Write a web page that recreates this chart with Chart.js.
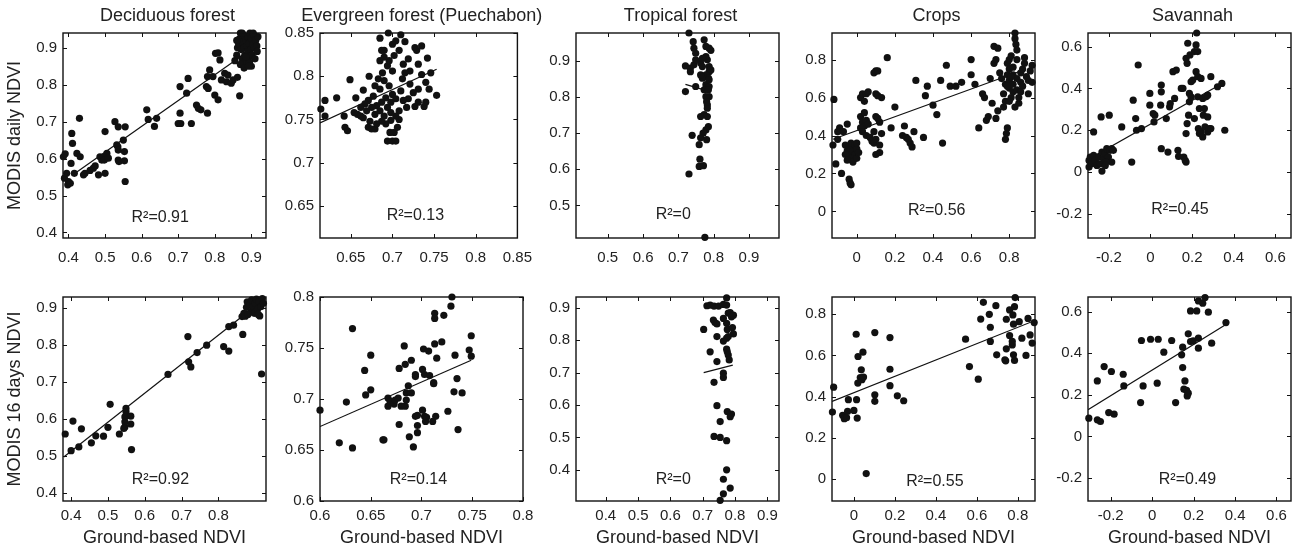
<!DOCTYPE html>
<html>
<head>
<meta charset="utf-8">
<script src="https://cdn.jsdelivr.net/npm/chart.js@4.4.1/dist/chart.umd.min.js"></script>
<style>
  body { margin: 0; background: #fff; }
  #fig { position: relative; width: 1301px; height: 553px; overflow: hidden; }
  #fig canvas { position: absolute; }
</style>
</head>
<body>
<div id="fig"></div>
<script>
// ---- data: [ground NDVI, MODIS NDVI] ----

// top row: MODIS daily
const decidDailyPts = [
  [0.386,0.605],[0.391,0.613],[0.389,0.547],[0.395,0.56],[0.4,0.538],[0.398,0.529],[0.405,0.533],[0.407,0.587],
  [0.409,0.668],[0.411,0.641],[0.416,0.56],[0.423,0.614],[0.43,0.709],[0.432,0.605],[0.441,0.556],[0.445,0.56],
  [0.459,0.568],[0.468,0.574],[0.473,0.58],[0.482,0.556],[0.486,0.605],[0.491,0.596],[0.495,0.604],[0.498,0.596],
  [0.5,0.673],[0.5,0.56],[0.505,0.614],[0.509,0.601],[0.527,0.7],[0.532,0.637],[0.535,0.632],[0.536,0.686],
  [0.536,0.623],[0.536,0.596],[0.538,0.592],[0.55,0.65],[0.553,0.619],[0.555,0.686],[0.553,0.594],[0.555,0.538],
  [0.614,0.732],[0.618,0.706],[0.635,0.687],[0.641,0.709],[0.7,0.695],[0.705,0.723],[0.705,0.795],[0.707,0.695],
  [0.723,0.777],[0.727,0.817],[0.736,0.695],[0.75,0.745],[0.755,0.736],[0.762,0.732],[0.777,0.795],[0.78,0.822],
  [0.78,0.723],[0.782,0.79],[0.786,0.84],[0.795,0.822],[0.8,0.772],[0.802,0.885],[0.809,0.886],[0.809,0.759],
  [0.814,0.867],[0.818,0.813],[0.827,0.831],[0.832,0.808],[0.836,0.826],[0.845,0.804],[0.85,0.813],[0.862,0.82],
  [0.868,0.77],
  [0.855,0.865],[0.86,0.88],[0.862,0.9],[0.865,0.91],[0.868,0.925],[0.87,0.94],[0.872,0.895],[0.875,0.87],
  [0.876,0.915],[0.878,0.935],[0.88,0.9],[0.882,0.88],[0.884,0.86],[0.885,0.92],[0.887,0.905],[0.89,0.93],
  [0.89,0.89],[0.892,0.87],[0.894,0.912],[0.896,0.94],[0.898,0.895],[0.9,0.925],[0.9,0.85],[0.902,0.88],
  [0.905,0.91],[0.906,0.935],[0.908,0.9],[0.91,0.87],[0.912,0.92],[0.915,0.905],[0.916,0.89],[0.918,0.93],
  [0.87,0.855],[0.88,0.845],[0.895,0.86],[0.86,0.92],[0.875,0.94],[0.905,0.94],[0.885,0.875],[0.892,0.85]
];
const evergreenDailyPts = [
  [0.614,0.762],[0.619,0.754],[0.619,0.772],[0.633,0.775],[0.642,0.754],[0.643,0.741],[0.646,0.737],[0.649,0.796],
  [0.656,0.775],[0.658,0.756],[0.662,0.754],[0.665,0.784],[0.672,0.8],[0.677,0.777],[0.671,0.741],[0.679,0.739],
  [0.685,0.818],[0.685,0.844],[0.69,0.83],[0.695,0.85],[0.7,0.837],[0.704,0.841],[0.71,0.848],[0.715,0.84],
  [0.694,0.725],[0.7,0.725],[0.704,0.725],[0.697,0.735],[0.708,0.75],[0.71,0.783],[0.719,0.82],[0.721,0.806],
  [0.727,0.833],[0.729,0.83],[0.735,0.835],[0.731,0.814],[0.735,0.802],[0.74,0.793],[0.742,0.821],[0.744,0.785],
  [0.746,0.804],[0.753,0.778],[0.738,0.765],[0.74,0.77],[0.727,0.765],[0.731,0.785],[0.719,0.774],[0.713,0.772],
  [0.721,0.791],[0.717,0.764],[0.708,0.76],[0.712,0.797],[0.7,0.806],[0.694,0.812],[0.688,0.804],[0.683,0.797],
  [0.679,0.789],[0.685,0.785],[0.69,0.795],[0.696,0.789],[0.7,0.779],[0.692,0.775],[0.687,0.77],[0.681,0.766],
  [0.675,0.764],[0.669,0.76],[0.665,0.752],[0.673,0.748],[0.679,0.756],[0.685,0.76],[0.69,0.754],[0.694,0.764],
  [0.698,0.77],[0.704,0.774],[0.704,0.754],[0.698,0.749],[0.692,0.745],[0.687,0.748],[0.681,0.745],[0.675,0.739],
  [0.698,0.758],[0.706,0.741],[0.702,0.735],[0.708,0.83],[0.702,0.824],[0.696,0.818],[0.69,0.822],[0.687,0.83],
  [0.713,0.814],[0.715,0.804],[0.725,0.781],[0.731,0.77],[0.671,0.772],[0.667,0.768],[0.662,0.764],[0.654,0.758]
];
const tropicalDailyPts = [
  [0.73,0.977],[0.742,0.953],[0.744,0.935],[0.749,0.921],[0.773,0.958],[0.778,0.94],[0.787,0.935],[0.792,0.929],
  [0.72,0.886],[0.734,0.88],[0.734,0.87],[0.744,0.889],[0.763,0.894],[0.768,0.884],[0.782,0.903],[0.787,0.884],
  [0.787,0.87],[0.792,0.875],[0.778,0.861],[0.785,0.852],[0.768,0.852],[0.763,0.861],[0.749,0.829],[0.72,0.815],
  [0.778,0.834],[0.787,0.829],[0.773,0.82],[0.787,0.801],[0.778,0.801],[0.782,0.778],[0.782,0.769],[0.773,0.751],
  [0.763,0.746],[0.782,0.746],[0.785,0.718],[0.778,0.709],[0.77,0.7],[0.739,0.694],[0.763,0.687],[0.78,0.682],
  [0.759,0.668],[0.761,0.628],[0.759,0.608],[0.771,0.61],[0.73,0.587],[0.775,0.412],[0.778,0.912],[0.785,0.82],
  [0.78,0.787],[0.787,0.848],[0.768,0.907],[0.749,0.903]
];
const cropsDailyPts = [
  [-0.125,0.35],[-0.12,0.59],[-0.11,0.25],[-0.1,0.42],[-0.09,0.44],[-0.08,0.2],[-0.1,0.38],[-0.07,0.42],
  [-0.05,0.46],[-0.04,0.17],[-0.035,0.15],[-0.03,0.14],[-0.05,0.32],[-0.04,0.3],[-0.03,0.28],[-0.02,0.26],
  [-0.04,0.34],[-0.02,0.32],[-0.01,0.3],[0,0.28],[-0.03,0.36],[-0.01,0.35],[0,0.33],[0.01,0.31],
  [-0.06,0.3],[-0.05,0.27],[0,0.36],[-0.06,0.35],
  [0.02,0.6],[0.03,0.62],[0.04,0.58],[0.05,0.62],[0.06,0.63],[0.02,0.5],[0.03,0.47],[0.04,0.45],
  [0.05,0.48],[0.02,0.44],[0.03,0.42],[0.04,0.52],[0.06,0.46],[0.05,0.4],[0.07,0.39],[0.08,0.37],
  [0.09,0.36],[0.1,0.3],[0.12,0.31],[0.09,0.42],[0.1,0.5],[0.11,0.49],[0.12,0.47],[0.13,0.41],
  [0.1,0.62],[0.11,0.61],[0.13,0.6],[0.09,0.73],[0.1,0.74],[0.11,0.74],[0.16,0.81],[0.2,0.55],
  [0.18,0.44],[0.1,0.38],[0.12,0.35],
  [0.25,0.45],[0.24,0.4],[0.26,0.39],[0.27,0.38],[0.28,0.36],[0.29,0.34],[0.3,0.42],[0.31,0.69],
  [0.36,0.61],[0.37,0.66],[0.35,0.39],[0.4,0.56],[0.42,0.51],[0.44,0.69],[0.45,0.36],[0.47,0.77],
  [0.49,0.66],[0.52,0.66],[0.55,0.68],
  [0.6,0.8],[0.6,0.72],[0.62,0.67],[0.64,0.44],[0.66,0.62],[0.67,0.6],[0.68,0.48],[0.69,0.5],
  [0.7,0.7],[0.71,0.57],[0.72,0.78],[0.72,0.87],[0.74,0.86],[0.73,0.8],[0.75,0.73],[0.76,0.7],
  [0.74,0.53],[0.73,0.49],
  [0.77,0.62],[0.77,0.55],[0.78,0.58],[0.78,0.38],[0.785,0.41],[0.79,0.44],[0.78,0.67],[0.79,0.72],
  [0.79,0.78],[0.8,0.8],[0.8,0.75],[0.8,0.69],[0.8,0.65],[0.81,0.6],[0.81,0.82],[0.82,0.76],
  [0.82,0.72],[0.82,0.67],[0.82,0.63],[0.83,0.94],[0.83,0.91],[0.835,0.88],[0.84,0.85],[0.84,0.8],
  [0.84,0.7],[0.84,0.64],[0.85,0.57],[0.85,0.6],[0.86,0.73],[0.86,0.68],[0.87,0.66],[0.87,0.75],
  [0.88,0.78],[0.88,0.81],[0.89,0.71],[0.9,0.62],[0.9,0.69],[0.91,0.74],[0.92,0.77],[0.92,0.68],
  [0.83,0.55],[0.86,0.63],[0.81,0.71],[0.8,0.58],[0.79,0.66]
];
const savannaDailyPts = [
  [-0.295,0.024],[-0.295,0.056],[-0.289,0.072],[-0.281,0.04],[-0.273,0.08],[-0.265,0.056],[-0.257,0.032],[-0.249,0.072],
  [-0.241,0.04],[-0.233,0.096],[-0.225,0.064],[-0.217,0.088],[-0.21,0.112],[-0.202,0.072],[-0.194,0.104],[-0.186,0.112],
  [-0.178,0.104],[-0.186,0.048],[-0.214,0.048],[-0.233,0.005],[-0.217,0.032],[-0.273,0.192],[-0.237,0.264],[-0.198,0.272],
  [-0.138,0.216],[-0.09,0.048],[-0.083,0.344],[-0.071,0.256],[-0.059,0.512],[-0.067,0.2],[-0.043,0.208],[-0.003,0.376],
  [-0.003,0.32],[0.013,0.28],[0.017,0.24],[0.021,0.272],[0.052,0.416],[0.052,0.384],[0.049,0.32],[0.076,0.256],
  [0.092,0.312],[0.095,0.328],[0.052,0.112],[0.084,0.096],[0.108,0.48],[0.124,0.488],[0.116,0.352],[0.132,0.104],
  [0.135,0.075],[0.148,0.4],[0.156,0.4],[0.16,0.072],[0.167,0.056],[0.171,0.048],[0.171,0.544],[0.176,0.52],
  [0.179,0.616],[0.183,0.272],[0.176,0.232],[0.171,0.184],[0.19,0.56],[0.187,0.376],[0.187,0.336],[0.195,0.432],
  [0.195,0.36],[0.203,0.44],[0.211,0.576],[0.211,0.256],[0.219,0.608],[0.219,0.48],[0.222,0.665],[0.227,0.576],
  [0.227,0.456],[0.227,0.36],[0.23,0.208],[0.235,0.184],[0.235,0.304],[0.243,0.192],[0.243,0.448],[0.251,0.168],
  [0.251,0.352],[0.254,0.272],[0.259,0.304],[0.262,0.216],[0.267,0.36],[0.275,0.264],[0.275,0.192],[0.283,0.208],
  [0.29,0.456],[0.29,0.208],[0.275,0.368],[0.322,0.408],[0.343,0.424],[0.357,0.2]
];

// bottom row: MODIS 16 days
const decid16Pts = [
  [0.384,0.559],[0.4,0.514],[0.405,0.594],[0.421,0.524],[0.428,0.573],[0.455,0.535],[0.467,0.554],[0.488,0.553],
  [0.5,0.577],[0.506,0.639],[0.531,0.559],[0.546,0.578],[0.546,0.605],[0.549,0.628],[0.549,0.619],[0.546,0.592],
  [0.562,0.607],[0.562,0.586],[0.564,0.517],[0.543,0.574],[0.663,0.72],[0.717,0.822],[0.719,0.754],[0.725,0.74],
  [0.742,0.779],[0.768,0.799],[0.814,0.795],[0.828,0.783],[0.828,0.849],[0.841,0.853],[0.866,0.828],[0.917,0.721],
  [0.864,0.876],[0.869,0.885],[0.873,0.877],[0.876,0.901],[0.878,0.916],[0.885,0.907],[0.888,0.889],[0.89,0.921],
  [0.894,0.903],[0.897,0.885],[0.9,0.912],[0.903,0.923],[0.906,0.896],[0.91,0.916],[0.912,0.878],[0.915,0.903],
  [0.919,0.925],[0.922,0.912],[0.908,0.882],[0.88,0.882]
];
const evergreen16Pts = [
  [0.6,0.689],[0.619,0.657],[0.626,0.697],[0.632,0.769],[0.632,0.652],[0.644,0.728],[0.645,0.704],[0.65,0.743],
  [0.65,0.709],[0.662,0.66],[0.663,0.66],[0.667,0.701],[0.667,0.693],[0.669,0.698],[0.673,0.695],[0.674,0.699],
  [0.677,0.701],[0.678,0.73],[0.678,0.675],[0.68,0.693],[0.683,0.752],[0.684,0.734],[0.684,0.693],[0.685,0.699],
  [0.685,0.706],[0.687,0.713],[0.688,0.663],[0.69,0.738],[0.69,0.706],[0.692,0.653],[0.694,0.722],[0.694,0.724],
  [0.694,0.683],[0.696,0.667],[0.696,0.674],[0.696,0.684],[0.701,0.729],[0.701,0.689],[0.702,0.749],[0.703,0.683],
  [0.703,0.724],[0.704,0.678],[0.705,0.682],[0.707,0.747],[0.708,0.723],[0.711,0.678],[0.712,0.716],[0.712,0.715],
  [0.713,0.784],[0.713,0.779],[0.713,0.754],[0.714,0.683],[0.715,0.74],[0.72,0.756],[0.722,0.782],[0.726,0.688],
  [0.729,0.791],[0.73,0.8],[0.732,0.707],[0.733,0.743],[0.735,0.72],[0.736,0.67],[0.74,0.706],[0.747,0.748],
  [0.749,0.762],[0.749,0.742]
];
const tropical16Pts = [
  [0.774,0.93],[0.713,0.906],[0.723,0.908],[0.735,0.905],[0.749,0.905],[0.764,0.91],[0.774,0.908],[0.703,0.833],
  [0.733,0.862],[0.738,0.854],[0.744,0.85],[0.764,0.867],[0.774,0.852],[0.779,0.883],[0.785,0.885],[0.789,0.872],
  [0.795,0.877],[0.776,0.833],[0.792,0.839],[0.795,0.819],[0.744,0.811],[0.764,0.797],[0.774,0.806],[0.779,0.811],
  [0.723,0.764],[0.774,0.772],[0.776,0.764],[0.779,0.754],[0.782,0.739],[0.744,0.734],[0.764,0.698],[0.764,0.685],
  [0.735,0.67],[0.744,0.598],[0.754,0.549],[0.776,0.58],[0.789,0.572],[0.785,0.564],[0.735,0.503],[0.754,0.5],
  [0.774,0.49],[0.774,0.4],[0.764,0.371],[0.785,0.344],[0.764,0.326],[0.754,0.306]
];
const crops16Pts = [
  [-0.105,0.325],[-0.099,0.446],[-0.055,0.309],[-0.047,0.293],[-0.036,0.298],[-0.031,0.328],[-0.027,0.385],[0,0.333],
  [0.011,0.703],[0.013,0.385],[0.016,0.296],[0.019,0.466],[0.02,0.595],[0.031,0.493],[0.036,0.53],[0.039,0.482],
  [0.044,0.616],[0.047,0.495],[0.06,0.026],[0.102,0.711],[0.102,0.409],[0.102,0.377],[0.176,0.687],[0.176,0.533],
  [0.176,0.453],[0.212,0.404],[0.243,0.38],
  [0.545,0.679],[0.564,0.546],[0.607,0.485],[0.619,0.777],[0.632,0.858],[0.661,0.8],[0.666,0.737],[0.666,0.668],
  [0.693,0.842],[0.697,0.603],[0.737,0.579],[0.741,0.574],[0.744,0.632],[0.744,0.776],[0.76,0.821],[0.76,0.697],
  [0.773,0.651],[0.773,0.668],[0.776,0.797],[0.779,0.752],[0.779,0.603],[0.784,0.837],[0.784,0.576],[0.787,0.881],
  [0.807,0.764],[0.82,0.684],[0.85,0.78],[0.86,0.7],[0.87,0.66],[0.88,0.76],[0.84,0.6]
];
const savanna16Pts = [
  [-0.306,0.088],[-0.265,0.267],[-0.265,0.08],[-0.25,0.072],[-0.232,0.336],[-0.21,0.115],[-0.197,0.312],[-0.184,0.107],
  [-0.14,0.299],[-0.137,0.243],[-0.056,0.163],[-0.052,0.461],[-0.044,0.243],[-0.008,0.467],[0.024,0.256],[0.029,0.467],
  [0.056,0.405],[0.094,0.461],[0.113,0.163],[0.142,0.392],[0.147,0.429],[0.147,0.331],[0.158,0.267],[0.153,0.227],
  [0.166,0.221],[0.169,0.195],[0.174,0.208],[0.174,0.493],[0.185,0.603],[0.185,0.456],[0.198,0.459],[0.215,0.603],
  [0.223,0.651],[0.223,0.424],[0.223,0.472],[0.244,0.64],[0.255,0.667],[0.271,0.597],[0.287,0.448],[0.356,0.547]
];

// fitted lines (end points)
const decidDailyFit = [[0.418,0.56],[0.905,0.9]];
const evergreenDailyFit = [[0.613,0.746],[0.753,0.808]];
const tropicalDailyFit = [[0.72,0.835],[0.79,0.815]];
const cropsDailyFit = [[-0.125,0.38],[0.86,0.74]];
const savannaDailyFit = [[-0.3,0.06],[0.355,0.43]];
const decid16Fit = [[0.38,0.497],[0.92,0.92]];
const evergreen16Fit = [[0.6,0.673],[0.749,0.738]];
const tropical16Fit = [[0.703,0.7],[0.793,0.723]];
const crops16Fit = [[-0.107,0.377],[0.884,0.77]];
const savanna16Fit = [[-0.31,0.128],[0.352,0.536]];

const r2Labels = ['R²=0.91','R²=0.13','R²=0','R²=0.56','R²=0.45','R²=0.92','R²=0.14','R²=0','R²=0.55','R²=0.49'];
const titles = ['Deciduous forest','Evergreen forest (Puechabon)','Tropical forest','Crops','Savannah'];
const yTitles = ['MODIS daily NDVI','MODIS 16 days NDVI'];
const xTitle = 'Ground-based NDVI';

// tick values
const ticksDecid = [0.4,0.5,0.6,0.7,0.8,0.9];
const ticksDecid16X = [0.4,0.5,0.6,0.7,0.8];
const ticksEvergreenDaily = [0.65,0.7,0.75,0.8,0.85];
const ticksEvergreen16 = [0.6,0.65,0.7,0.75,0.8];
const ticksTropicalDaily = [0.5,0.6,0.7,0.8,0.9];
const ticksTropical16 = [0.4,0.5,0.6,0.7,0.8,0.9];
const ticksCrops = [0,0.2,0.4,0.6,0.8];
const ticksSavanna = [-0.2,0,0.2,0.4,0.6];

// ---- layout ----
const FONT = '"Liberation Sans", Arial, Helvetica, sans-serif';
const INK = '#111';
const TEXT = '#222';
const plotLefts = [63, 320, 576, 832, 1088];
const PLOT_W = 203;

const panels = [
  {row:0, col:0, pts:decidDailyPts, fit:decidDailyFit, x:[0.385,0.94], y:[0.385,0.94], xt:ticksDecid, yt:ticksDecid, r2At:[0.479,0.9]},
  {row:0, col:1, pts:evergreenDailyPts, fit:evergreenDailyFit, x:[0.613,0.85], y:[0.613,0.85], xt:ticksEvergreenDaily, yt:ticksEvergreenDaily, r2At:[0.483,0.89]},
  {row:0, col:2, pts:tropicalDailyPts, fit:tropicalDailyFit, x:[0.41,0.985], y:[0.41,0.977], xt:ticksTropicalDaily, yt:ticksTropicalDaily, r2At:[0.479,0.888]},
  {row:0, col:3, pts:cropsDailyPts, fit:cropsDailyFit, x:[-0.13,0.935], y:[-0.14,0.94], xt:ticksCrops, yt:ticksCrops, r2At:[0.516,0.867]},
  {row:0, col:4, pts:savannaDailyPts, fit:savannaDailyFit, x:[-0.3,0.675], y:[-0.315,0.665], xt:ticksSavanna, yt:ticksSavanna, r2At:[0.453,0.863]},
  {row:1, col:0, pts:decid16Pts, fit:decid16Fit, x:[0.378,0.929], y:[0.378,0.929], xt:ticksDecid16X, yt:ticksDecid, r2At:[0.48,0.897]},
  {row:1, col:1, pts:evergreen16Pts, fit:evergreen16Fit, x:[0.6,0.8], y:[0.6,0.8], xt:ticksEvergreen16, yt:ticksEvergreen16, r2At:[0.485,0.897]},
  {row:1, col:2, pts:tropical16Pts, fit:tropical16Fit, x:[0.308,0.936], y:[0.304,0.933], xt:ticksTropical16, yt:ticksTropical16, r2At:[0.479,0.897]},
  {row:1, col:3, pts:crops16Pts, fit:crops16Fit, x:[-0.107,0.884], y:[-0.107,0.884], xt:ticksCrops, yt:ticksCrops, r2At:[0.507,0.907]},
  {row:1, col:4, pts:savanna16Pts, fit:savanna16Fit, x:[-0.31,0.67], y:[-0.31,0.67], xt:ticksSavanna, yt:ticksSavanna, r2At:[0.49,0.897]}
];

function fmt(v) {
  return String(+Number(v).toFixed(2));
}

// box with inward ticks on all sides, R² text and panel title (MATLAB look)
const panelFrame = {
  id: 'panelFrame',
  afterDraw(chart, args, o) {
    const {ctx, chartArea: a} = chart;
    const sx = chart.scales.x, sy = chart.scales.y;
    ctx.save();
    ctx.strokeStyle = INK;
    ctx.lineWidth = 1.4;
    ctx.strokeRect(a.left, a.top, a.right - a.left, a.bottom - a.top);
    ctx.lineWidth = 1;
    ctx.beginPath();
    sx.ticks.forEach(t => {
      const px = Math.round(sx.getPixelForValue(t.value)) + 0.5;
      ctx.moveTo(px, a.bottom); ctx.lineTo(px, a.bottom - 4);
      ctx.moveTo(px, a.top); ctx.lineTo(px, a.top + 4);
    });
    sy.ticks.forEach(t => {
      const py = Math.round(sy.getPixelForValue(t.value)) + 0.5;
      ctx.moveTo(a.left, py); ctx.lineTo(a.left + 4, py);
      ctx.moveTo(a.right, py); ctx.lineTo(a.right - 4, py);
    });
    ctx.stroke();

    ctx.fillStyle = TEXT;
    ctx.textAlign = 'center';
    ctx.textBaseline = 'middle';
    ctx.font = '16px ' + FONT;
    ctx.fillText(o.r2, a.left + o.r2At[0] * (a.right - a.left), a.top + o.r2At[1] * (a.bottom - a.top));
    if (o.title) {
      ctx.font = '18px ' + FONT;
      ctx.fillText(o.title, (a.left + a.right) / 2 + 3, 16.5);
    }
    ctx.restore();
  }
};

const fig = document.getElementById('fig');

panels.forEach((p, i) => {
  const L = p.col === 0 ? 63 : 50;
  const R = 20;
  const rowTop = p.row === 0 ? 0 : 270;
  const H = p.row === 0 ? 270 : 283;
  const areaTop = (p.row === 0 ? 33 : 297) - rowTop;
  const areaBottom = (p.row === 0 ? 238 : 501) - rowTop;
  const W = L + PLOT_W + R;

  const canvas = document.createElement('canvas');
  canvas.width = W;
  canvas.height = H;
  canvas.style.left = (plotLefts[p.col] - L) + 'px';
  canvas.style.top = rowTop + 'px';
  fig.appendChild(canvas);

  new Chart(canvas, {
    type: 'scatter',
    data: {
      datasets: [
        {
          data: p.pts.map(([x, y]) => ({x, y})),
          pointRadius: 3.6,
          pointHoverRadius: 3.6,
          backgroundColor: INK,
          borderWidth: 0,
          clip: false
        },
        {
          data: p.fit.map(([x, y]) => ({x, y})),
          showLine: true,
          pointRadius: 0,
          borderColor: INK,
          borderWidth: 1.2,
          fill: false
        }
      ]
    },
    options: {
      responsive: false,
      animation: false,
      events: [],
      layout: {padding: {top: areaTop, right: R, left: 0, bottom: 0}},
      plugins: {
        legend: {display: false},
        tooltip: {enabled: false},
        panelFrame: {r2: r2Labels[i], r2At: p.r2At, title: p.row === 0 ? titles[p.col] : ''}
      },
      scales: {
        x: {
          type: 'linear',
          bounds: 'data',
          min: p.x[0],
          max: p.x[1],
          afterBuildTicks: s => { s.ticks = p.xt.map(v => ({value: v})); },
          afterFit: s => { s.height = H - areaBottom; },
          grid: {display: false, drawTicks: false},
          border: {display: false},
          ticks: {
            autoSkip: false,
            maxRotation: 0,
            padding: p.row === 0 ? 11 : 6,
            color: TEXT,
            font: {family: FONT, size: 15},
            callback: v => fmt(v)
          },
          title: {
            display: p.row === 1,
            text: xTitle,
            color: TEXT,
            font: {family: FONT, size: 18},
            padding: {top: 0, bottom: 4}
          }
        },
        y: {
          type: 'linear',
          bounds: 'data',
          min: p.y[0],
          max: p.y[1],
          afterBuildTicks: s => { s.ticks = p.yt.map(v => ({value: v})); },
          afterFit: s => { s.width = L; },
          grid: {display: false, drawTicks: false},
          border: {display: false},
          ticks: {
            autoSkip: false,
            padding: 6,
            color: TEXT,
            font: {family: FONT, size: 15},
            callback: v => fmt(v)
          },
          title: {
            display: p.col === 0,
            text: yTitles[p.row],
            color: TEXT,
            font: {family: FONT, size: 18},
            padding: {top: 4, bottom: 0}
          }
        }
      }
    },
    plugins: [panelFrame]
  });
});
</script>
</body>
</html>
